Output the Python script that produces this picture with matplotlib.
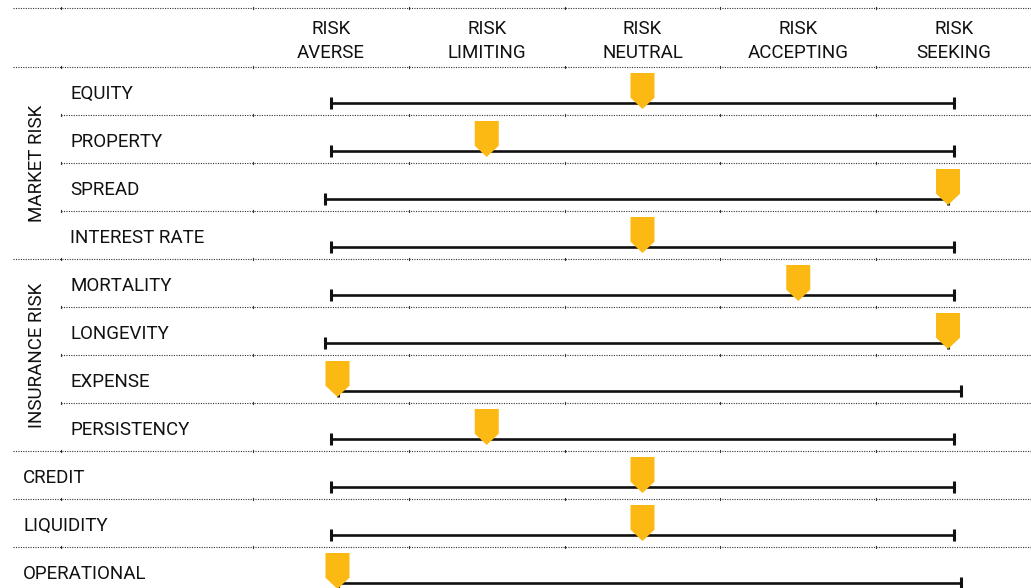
import matplotlib
matplotlib.use("Agg")
import matplotlib.pyplot as plt
from matplotlib.patches import Polygon

plt.rcParams['font.family'] = ['Roboto', 'DejaVu Sans']

# data
scale_labels = ['RISK\nAVERSE', 'RISK\nLIMITING', 'RISK\nNEUTRAL', 'RISK\nACCEPTING', 'RISK\nSEEKING']
risks = ['EQUITY', 'PROPERTY', 'SPREAD', 'INTEREST RATE',
         'MORTALITY', 'LONGEVITY', 'EXPENSE', 'PERSISTENCY',
         'CREDIT', 'LIQUIDITY', 'OPERATIONAL']
levels = [2, 1, 4, 2, 3, 4, 0, 1, 2, 2, 0]
groups = ['MARKET RISK'] * 4 + ['INSURANCE RISK'] * 4 + [''] * 3

yellow = '#FDB913'
ink = '#111111'

W, H = 1031, 588
fig = plt.figure(figsize=(W / 100, H / 100), dpi=100)
ax = fig.add_axes([0, 0, 1, 1])
ax.axis('off')

# level 0 sits at 331px, level 4 at 954px; rows are 48px, first row top at 67px
step = (954 - 331) / 4.0
ax.set_xlim(-331 / step, (W - 331) / step)
ax.set_ylim((H - 67) / 48.0, -67 / 48.0)

def px(x):
    return (x - 331) / step

n = len(risks)
fs = 13.5

# dotted separators
dot = dict(color='#333333', lw=0.8, ls=(0, (1, 1.2)))
top = (8 - 67) / 48.0
marks = [px(61)] + [k - 0.5 for k in range(5)]
ax.plot([px(13), px(W)], [top, top], **dot)
for m in marks:
    ax.plot([m, m], [top - 0.03, top + 0.03], color='#333333', lw=0.8)
for i in range(n + 1):
    inner = 0 < i < n and groups[i] != '' and groups[i] == groups[i - 1]
    x0 = px(61) if inner else px(13)
    ax.plot([x0, px(W)], [i, i], **dot)
    for m in marks:
        ax.plot([m, m], [i - 0.03, i + 0.03], color='#333333', lw=0.8)

# header
for k, lab in enumerate(scale_labels):
    ax.text(k, -0.54, lab, ha='center', va='center', fontsize=fs,
            color=ink, linespacing=1.45)

# group labels
seen = []
for g in groups:
    if g and g not in seen:
        seen.append(g)
        idx = [i for i, gg in enumerate(groups) if gg == g]
        yc = (idx[0] + idx[-1] + 1) / 2.0
        ax.text(px(37), yc, g, rotation=90, ha='center', va='center',
                fontsize=fs, color=ink)

# rows
shift = {0: 6.5 / step, 4: -6 / step}
mw = 12 / step
for i, (name, lev, g) in enumerate(zip(risks, levels, groups)):
    lx = px(70) if g else px(23)
    ax.text(lx, i + 0.56, name, ha='left', va='center', fontsize=fs, color=ink)

    s = shift.get(lev, 0)
    y = i + 0.75
    ax.plot([0 + s, 4 + s], [y, y], color=ink, lw=1.9, solid_capstyle='butt', zorder=2)
    for e in (0 + s, 4 + s):
        ax.plot([e, e], [y - 0.12, y + 0.12], color=ink, lw=2.2,
                solid_capstyle='butt', zorder=2)

    xm = lev + s
    pent = Polygon([(xm - mw, i + 0.125), (xm + mw, i + 0.125),
                    (xm + mw, i + 0.64), (xm, i + 0.875), (xm - mw, i + 0.64)],
                   closed=True, facecolor=yellow, edgecolor='none', zorder=3)
    ax.add_patch(pent)

fig.savefig('out.png', dpi=100)
